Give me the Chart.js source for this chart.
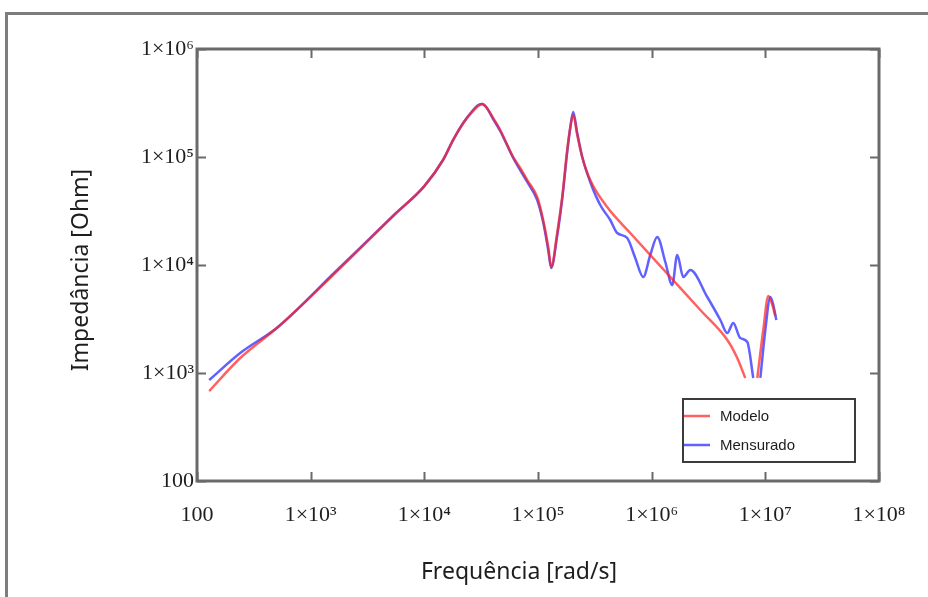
<!DOCTYPE html>
<html>
<head>
<meta charset="utf-8">
<script src="https://cdn.jsdelivr.net/npm/chart.js@4.4.0/dist/chart.umd.min.js"></script>
<style>
  html, body { margin: 0; padding: 0; background: #fff; }
  #wrap { width: 928px; height: 597px; }
</style>
</head>
<body>
<div id="wrap"><canvas id="myChart" width="928" height="597"></canvas></div>
<script>
// Modelo (red)
const modelFreq = [128, 240, 516, 1640, 5530, 10000, 14600, 17900, 22000, 26400, 29800, 32300, 35000, 40300, 46500, 60500, 69700, 80400, 98400, 111000, 123000, 130700, 147500, 163300, 180700, 192100, 204000, 221400, 245000, 288000, 406000, 648000, 1459000, 2680000, 4630000, 5660000, 6660000, 7500000, 8500000, 9590000, 10620000, 11520000, 12240000];
const modelZ = [681, 1377, 2667, 8430, 29650, 53800, 93800, 143600, 206500, 261000, 296500, 309800, 290400, 229600, 177800, 100000, 79100, 61200, 42650, 26100, 14680, 9580, 19780, 42650, 116100, 185600, 245000, 160000, 100000, 61200, 34400, 19780, 7740, 3830, 2020, 1377, 899, null, 899, 2500, 5160, 4265, 3370];

// Mensurado (blue)
const measFreq = [128, 240, 516, 1640, 5530, 10000, 14600, 17900, 22000, 26400, 29800, 32300, 35000, 40300, 46500, 60500, 80400, 98400, 111000, 123000, 130700, 147500, 163300, 180700, 192100, 204000, 221400, 245000, 288000, 352700, 432000, 497700, 609600, 717000, 843500, 972000, 1120000, 1318000, 1517000, 1679000, 1897000, 2187000, 3085000, 4020000, 4630000, 5220000, 6020000, 6940000, 7830000, 8400000, 9040000, 10000000, 11070000, 11750000, 12490000];
const measZ = [861, 1531, 2667, 8610, 29650, 53800, 93800, 143600, 206500, 266600, 303000, 309800, 290400, 224700, 174200, 98000, 58700, 40000, 25000, 13770, 9380, 18600, 40800, 111200, 185600, 261000, 166800, 100000, 58700, 35940, 26100, 19780, 17780, 11610, 7740, 12380, 18160, 10660, 6530, 12380, 7740, 8990, 5055, 3097, 2344, 2904, 2109, 1937, 899, null, 899, 2500, 5055, 4265, 3097];

const xTickValues = [1e2, 1e3, 1e4, 1e5, 1e6, 1e7, 1e8];
const xTickLabels = ['100', '1×10³', '1×10⁴', '1×10⁵', '1×10⁶', '1×10⁷', '1×10⁸'];
const yTickValues = [1e2, 1e3, 1e4, 1e5, 1e6];
const yTickLabels = ['100', '1×10³', '1×10⁴', '1×10⁵', '1×10⁶'];

const seriesNames = ['Modelo', 'Mensurado'];
const seriesColors = ['rgba(255,30,30,0.7)', 'rgba(30,30,255,0.7)'];

function toPoints(xs, ys) {
  return xs.map((x, i) => ({ x: x, y: ys[i] }));
}

const decorations = {
  id: 'decorations',
  beforeDraw(chart) {
    const c = chart.ctx;
    c.save();
    c.fillStyle = '#fff';
    c.fillRect(0, 0, chart.width, chart.height);
    // outer frame
    c.strokeStyle = '#7d7d7d';
    c.lineWidth = 3;
    c.beginPath();
    c.moveTo(6.5, chart.height);
    c.lineTo(6.5, 13.5);
    c.lineTo(chart.width, 13.5);
    c.stroke();
    c.restore();
  },
  afterDraw(chart) {
    const c = chart.ctx, a = chart.chartArea;
    const xs = chart.scales.x, ys = chart.scales.y;
    c.save();
    // plot box
    c.strokeStyle = '#6a6a6a';
    c.lineWidth = 3;
    c.strokeRect(a.left, a.top, a.right - a.left, a.bottom - a.top);
    // inward ticks
    c.lineWidth = 2;
    c.beginPath();
    xTickValues.forEach(v => {
      const p = Math.round(xs.getPixelForValue(v)) + 0.5;
      c.moveTo(p, a.bottom); c.lineTo(p, a.bottom - 9);
      c.moveTo(p, a.top); c.lineTo(p, a.top + 9);
    });
    yTickValues.forEach(v => {
      const p = Math.round(ys.getPixelForValue(v)) + 0.5;
      c.moveTo(a.left, p); c.lineTo(a.left + 9, p);
      c.moveTo(a.right, p); c.lineTo(a.right - 9, p);
    });
    c.stroke();

    // legend box
    const lx = 683, ly = 399, lw = 172, lh = 63;
    c.fillStyle = '#fff';
    c.fillRect(lx, ly, lw, lh);
    c.strokeStyle = '#3c3c3c';
    c.lineWidth = 2;
    c.strokeRect(lx, ly, lw, lh);
    c.font = '15px "Liberation Sans", Arial, sans-serif';
    c.textBaseline = 'middle';
    c.textAlign = 'left';
    const rowY = [416, 445];
    seriesNames.forEach((name, i) => {
      c.strokeStyle = seriesColors[i];
      c.lineWidth = 2.5;
      c.beginPath();
      c.moveTo(lx + 1, rowY[i]);
      c.lineTo(lx + 27, rowY[i]);
      c.stroke();
      c.fillStyle = '#1e1e1e';
      c.fillText(name, lx + 37, rowY[i] + 1);
    });

    // axis titles
    c.fillStyle = '#1e1e1e';
    c.font = '23px "Noto Sans", "Open Sans", sans-serif';
    c.textAlign = 'center';
    c.fillText('Frequência [rad/s]', 519, 572);
    c.translate(81, 270);
    c.rotate(-Math.PI / 2);
    c.fillText('Impedância [Ohm]', 0, 0);
    c.restore();
  }
};

const config = {
  type: 'line',
  data: {
    datasets: [
      {
        label: seriesNames[0],
        data: toPoints(modelFreq, modelZ),
        borderColor: seriesColors[0],
        borderWidth: 2.5,
        pointRadius: 0,
        cubicInterpolationMode: 'monotone',
        spanGaps: false
      },
      {
        label: seriesNames[1],
        data: toPoints(measFreq, measZ),
        borderColor: seriesColors[1],
        borderWidth: 2.5,
        pointRadius: 0,
        cubicInterpolationMode: 'monotone',
        spanGaps: false
      }
    ]
  },
  options: {
    responsive: false,
    animation: false,
    devicePixelRatio: 1,
    layout: { padding: { top: 49, right: 49, left: 0, bottom: 0 } },
    plugins: { legend: { display: false }, tooltip: { enabled: false } },
    scales: {
      x: {
        type: 'logarithmic',
        min: 100,
        max: 1e8,
        grid: { display: false, drawTicks: false },
        border: { display: false },
        afterBuildTicks: s => { s.ticks = xTickValues.map(v => ({ value: v })); },
        afterFit: s => { s.height = 116; },
        ticks: {
          autoSkip: false,
          maxRotation: 0,
          padding: 21,
          color: '#1e1e1e',
          font: { family: '"Liberation Serif", "Times New Roman", serif', size: 22 },
          callback: (v, i) => xTickLabels[i]
        }
      },
      y: {
        type: 'logarithmic',
        min: 100,
        max: 1e6,
        grid: { display: false, drawTicks: false },
        border: { display: false },
        afterBuildTicks: s => { s.ticks = yTickValues.map(v => ({ value: v })); },
        afterFit: s => { s.width = 197; },
        ticks: {
          autoSkip: false,
          padding: 3,
          color: '#1e1e1e',
          font: { family: '"Liberation Serif", "Times New Roman", serif', size: 22 },
          callback: (v, i) => yTickLabels[i]
        }
      }
    }
  },
  plugins: [decorations]
};

const myChart = new Chart(document.getElementById('myChart'), config);
</script>
</body>
</html>
